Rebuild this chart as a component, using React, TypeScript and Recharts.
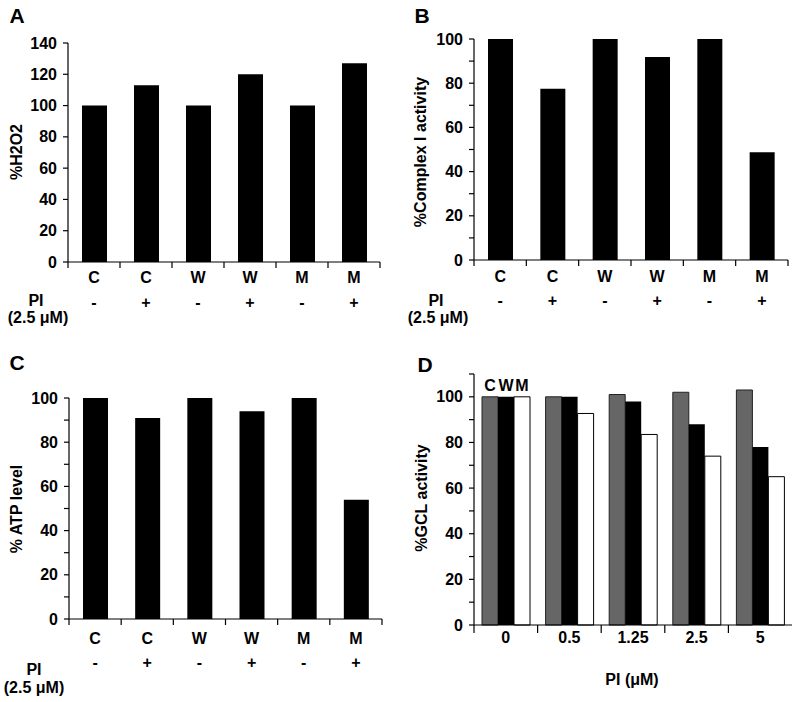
import React from 'react';
import { BarChart, Bar, XAxis, YAxis, LabelList } from 'recharts';

// panels A-C: six samples, cell line + PI treatment
const groups = ['C', 'C', 'W', 'W', 'M', 'M'];
const piSigns = ['-', '+', '-', '+', '-', '+'];
const h2o2 = [100, 113, 100, 120, 100, 127];
const complexI = [100, 77.5, 100, 91.8, 100, 48.8];
const atp = [100, 91, 100, 94, 100, 54];

// panel D: PI dose response
const piDoses = ['0', '0.5', '1.25', '2.5', '5'];
const gclC = [100, 100, 101, 102, 103];
const gclW = [100, 100, 98, 88, 78];
const gclM = [100, 92.7, 83.5, 74, 65];

const ticksA = [0, 20, 40, 60, 80, 100, 120, 140];
const ticks100 = [0, 10, 20, 30, 40, 50, 60, 70, 80, 90, 100];
const ticks110 = [0, 10, 20, 30, 40, 50, 60, 70, 80, 90, 100, 110];

const FONT = '"Liberation Sans", Arial, Helvetica, sans-serif';

const sampleRows = (vals) =>
  groups.map((g, i) => ({ id: g + piSigns[i] + i, value: vals[i] }));

const doseRows = piDoses.map((d, i) => ({ dose: d, C: gclC[i], W: gclW[i], M: gclM[i] }));

function Txt({ x, y, size = 16, rotate = 0, children }) {
  return (
    <div
      style={{
        position: 'absolute',
        left: x,
        top: y,
        transform: `translate(-50%, -50%) rotate(${rotate}deg)`,
        whiteSpace: 'nowrap',
        fontFamily: FONT,
        fontWeight: 'bold',
        fontSize: size,
        lineHeight: 1,
        color: '#000',
      }}
    >
      {children}
    </div>
  );
}

function yTick(labelMax) {
  return (p) => {
    const v = p.payload.value;
    if (v % 20 !== 0 || v > labelMax) return <g />;
    return (
      <text x={p.x} y={p.y} dy={5.5} textAnchor="end" fontFamily={FONT} fontWeight="bold" fontSize={16} fill="#000">
        {v}
      </text>
    );
  };
}

function groupTick(band, letterDy, signDy) {
  return (p) => {
    const i = p.index ?? p.payload.index;
    const { x, y } = p;
    return (
      <g>
        <line x1={x - band / 2} x2={x - band / 2} y1={y} y2={y + 6} stroke="#000" strokeWidth={1.2} />
        {i === groups.length - 1 && (
          <line x1={x + band / 2} x2={x + band / 2} y1={y} y2={y + 6} stroke="#000" strokeWidth={1.2} />
        )}
        <text x={x} y={y + letterDy} textAnchor="middle" fontFamily={FONT} fontWeight="bold" fontSize={16} fill="#000">
          {groups[i]}
        </text>
        <text x={x} y={y + signDy} textAnchor="middle" fontFamily={FONT} fontWeight="bold" fontSize={16} fill="#000">
          {piSigns[i]}
        </text>
      </g>
    );
  };
}

function doseTick(band) {
  return (p) => {
    const i = p.index ?? p.payload.index;
    const { x, y } = p;
    return (
      <g>
        <line x1={x - band / 2} x2={x - band / 2} y1={y} y2={y + 8} stroke="#000" strokeWidth={1.2} />
        <text x={x} y={y + 17.5} textAnchor="middle" fontFamily={FONT} fontWeight="bold" fontSize={16} fill="#000">
          {piDoses[i]}
        </text>
      </g>
    );
  };
}

function SamplePanel({ left, top, width, height, margin, vals, max, ticks, labelMax, letterDy, signDy }) {
  const band = (width - margin.left - margin.right - 50) / groups.length;
  return (
    <div style={{ position: 'absolute', left, top }}>
      <BarChart width={width} height={height} data={sampleRows(vals)} margin={margin}>
        <XAxis
          dataKey="id"
          height={40}
          tickSize={0}
          tickMargin={0}
          tickLine={false}
          interval={0}
          stroke="#000"
          strokeWidth={1.2}
          tick={groupTick(band, letterDy, signDy)}
        />
        <YAxis
          width={50}
          domain={[0, max]}
          ticks={ticks}
          interval={0}
          tickSize={5}
          tickMargin={6}
          stroke="#000"
          strokeWidth={1.2}
          tick={yTick(labelMax)}
        />
        <Bar dataKey="value" fill="#000" barSize={25} isAnimationActive={false} />
      </BarChart>
    </div>
  );
}

function letterLabel(letter) {
  return (p) =>
    p.index === 0 ? (
      <text x={p.x + p.width / 2} y={p.y - 6} textAnchor="middle" fontFamily={FONT} fontWeight="bold" fontSize={16} fill="#000">
        {letter}
      </text>
    ) : null;
}

function DosePanel() {
  const margin = { top: 34, right: 8, left: 24, bottom: 37 };
  const band = (400 - margin.left - margin.right - 50) / piDoses.length;
  return (
    <div style={{ position: 'absolute', left: 400, top: 340 }}>
      <BarChart width={400} height={362} data={doseRows} margin={margin} barGap={0}>
        <XAxis
          dataKey="dose"
          height={40}
          tickSize={0}
          tickMargin={0}
          tickLine={false}
          interval={0}
          stroke="#000"
          strokeWidth={1.2}
          tick={doseTick(band)}
        />
        <YAxis
          width={50}
          domain={[0, 110]}
          ticks={ticks110}
          interval={0}
          tickSize={5}
          tickMargin={6}
          stroke="#000"
          strokeWidth={1.2}
          tick={yTick(100)}
        />
        <Bar dataKey="C" fill="#666" stroke="#222" strokeWidth={1} barSize={16} isAnimationActive={false}>
          <LabelList content={letterLabel('C')} />
        </Bar>
        <Bar dataKey="W" fill="#000" barSize={16} isAnimationActive={false}>
          <LabelList content={letterLabel('W')} />
        </Bar>
        <Bar dataKey="M" fill="#fff" stroke="#000" strokeWidth={1} barSize={16} isAnimationActive={false}>
          <LabelList content={letterLabel('M')} />
        </Bar>
      </BarChart>
    </div>
  );
}

export default function App() {
  return (
    <div style={{ position: 'absolute', left: 0, top: 0, width: 800, height: 702, background: '#fff', overflow: 'hidden' }}>
      <SamplePanel
        left={0}
        top={0}
        width={400}
        height={340}
        margin={{ top: 43, right: 20, left: 18, bottom: 38 }}
        vals={h2o2}
        max={140}
        ticks={ticksA}
        labelMax={140}
        letterDy={21}
        signDy={46}
      />
      <SamplePanel
        left={400}
        top={0}
        width={400}
        height={340}
        margin={{ top: 39, right: 12, left: 24, bottom: 40 }}
        vals={complexI}
        max={100}
        ticks={ticks100}
        labelMax={100}
        letterDy={22}
        signDy={46}
      />
      <SamplePanel
        left={0}
        top={340}
        width={400}
        height={362}
        margin={{ top: 58, right: 18, left: 19, bottom: 43 }}
        vals={atp}
        max={100}
        ticks={ticks100}
        labelMax={100}
        letterDy={24.5}
        signDy={48.5}
      />
      <DosePanel />

      <Txt x={17} y={15} size={21}>A</Txt>
      <Txt x={422} y={15} size={21}>B</Txt>
      <Txt x={17} y={362} size={21}>C</Txt>
      <Txt x={425} y={364} size={21}>D</Txt>

      <Txt x={17} y={152} rotate={-90}>%H2O2</Txt>
      <Txt x={421} y={152} rotate={-90}>%Complex I activity</Txt>
      <Txt x={17} y={509} rotate={-90}>% ATP level</Txt>
      <Txt x={422} y={498} rotate={-90}>%GCL activity</Txt>

      <Txt x={36} y={301}>PI</Txt>
      <Txt x={38} y={318}>(2.5 μM)</Txt>
      <Txt x={436} y={301}>PI</Txt>
      <Txt x={438} y={318}>(2.5 μM)</Txt>
      <Txt x={34} y={670}>PI</Txt>
      <Txt x={34} y={688}>(2.5 μM)</Txt>
      <Txt x={632} y={680}>PI (μM)</Txt>
    </div>
  );
}
